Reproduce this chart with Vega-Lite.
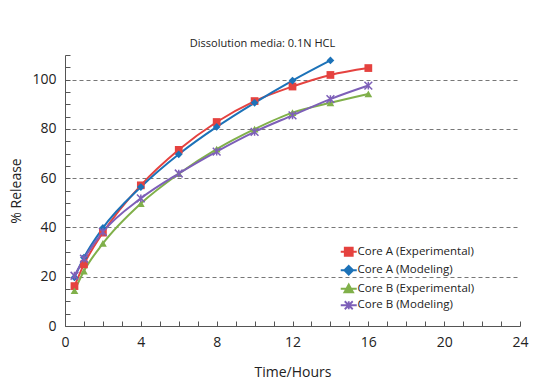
{
  "$schema": "https://vega.github.io/schema/vega-lite/v6.json",
  "width": 455,
  "height": 271,
  "autosize": {"type": "none"},
  "padding": {"left": 65, "top": 55, "right": 30, "bottom": 57},
  "background": "white",
  "title": {"text": "Dissolution media: 0.1N HCL", "fontSize": 11, "fontWeight": "normal", "font": "Open Sans", "color": "#222", "anchor": "middle", "dx": -30, "offset": 6},
  "config": {
    "view": {"stroke": null},
    "font": "Open Sans"
  },
  "data": {"values": [
    {"series": "Core A (Experimental)", "time": 0.5, "release": 16.2},
    {"series": "Core A (Experimental)", "time": 1, "release": 25.0},
    {"series": "Core A (Experimental)", "time": 2, "release": 37.9},
    {"series": "Core A (Experimental)", "time": 4, "release": 57.1},
    {"series": "Core A (Experimental)", "time": 6, "release": 71.5},
    {"series": "Core A (Experimental)", "time": 8, "release": 82.8},
    {"series": "Core A (Experimental)", "time": 10, "release": 91.3},
    {"series": "Core A (Experimental)", "time": 12, "release": 97.2},
    {"series": "Core A (Experimental)", "time": 14, "release": 101.9},
    {"series": "Core A (Experimental)", "time": 16, "release": 104.7},
    {"series": "Core A (Modeling)", "time": 0.5, "release": 19.7},
    {"series": "Core A (Modeling)", "time": 1, "release": 27.8},
    {"series": "Core A (Modeling)", "time": 2, "release": 39.8},
    {"series": "Core A (Modeling)", "time": 4, "release": 56.4},
    {"series": "Core A (Modeling)", "time": 6, "release": 69.7},
    {"series": "Core A (Modeling)", "time": 8, "release": 80.8},
    {"series": "Core A (Modeling)", "time": 10, "release": 90.6},
    {"series": "Core A (Modeling)", "time": 12, "release": 99.6},
    {"series": "Core A (Modeling)", "time": 14, "release": 107.8},
    {"series": "Core B (Experimental)", "time": 0.5, "release": 14.3},
    {"series": "Core B (Experimental)", "time": 1, "release": 22.3},
    {"series": "Core B (Experimental)", "time": 2, "release": 33.5},
    {"series": "Core B (Experimental)", "time": 4, "release": 49.7},
    {"series": "Core B (Experimental)", "time": 6, "release": 61.8},
    {"series": "Core B (Experimental)", "time": 8, "release": 71.8},
    {"series": "Core B (Experimental)", "time": 10, "release": 79.9},
    {"series": "Core B (Experimental)", "time": 12, "release": 86.6},
    {"series": "Core B (Experimental)", "time": 14, "release": 90.6},
    {"series": "Core B (Experimental)", "time": 16, "release": 94.2},
    {"series": "Core B (Modeling)", "time": 0.5, "release": 20.4},
    {"series": "Core B (Modeling)", "time": 1, "release": 27.3},
    {"series": "Core B (Modeling)", "time": 2, "release": 38.2},
    {"series": "Core B (Modeling)", "time": 4, "release": 51.8},
    {"series": "Core B (Modeling)", "time": 6, "release": 61.9},
    {"series": "Core B (Modeling)", "time": 8, "release": 70.8},
    {"series": "Core B (Modeling)", "time": 10, "release": 78.8},
    {"series": "Core B (Modeling)", "time": 12, "release": 85.5},
    {"series": "Core B (Modeling)", "time": 14, "release": 92.1},
    {"series": "Core B (Modeling)", "time": 16, "release": 97.6}
  ]},
  "encoding": {
    "x": {"field": "time", "type": "quantitative",
      "scale": {"domain": [0, 24], "nice": false},
      "axis": {"title": "Time/Hours", "titleFontSize": 14, "titleFontWeight": "normal", "titleColor": "#222", "titlePadding": 16,
        "values": [0,1,2,3,4,5,6,7,8,9,10,11,12,13,14,15,16,17,18,19,20,21,22,23,24],
        "labelExpr": "datum.value % 4 == 0 ? datum.label : ''",
        "labelFontSize": 14, "labelColor": "#222", "labelPadding": 14, "labelFlush": false,
        "tickSize": -5, "tickColor": "#555", "domainColor": "#555", "grid": false}},
    "y": {"field": "release", "type": "quantitative",
      "scale": {"domain": [0, 110], "nice": false},
      "axis": {"title": "% Release", "titleFontSize": 14, "titleFontWeight": "normal", "titleColor": "#222", "titlePadding": 8,
        "values": [0,5,10,15,20,25,30,35,40,45,50,55,60,65,70,75,80,85,90,95,100,105,110],
        "labelExpr": "datum.value % 20 == 0 ? datum.label : ''",
        "labelFontSize": 14, "labelColor": "#222", "labelPadding": 14,
        "tickSize": -5, "tickColor": "#555", "domainColor": "#555",
        "grid": true, "gridColor": "#777", "gridDash": [4, 3], "gridWidth": 1,
        "gridOpacity": {"condition": {"test": "datum.value % 20 == 0 && datum.value > 0 && datum.value <= 100", "value": 1}, "value": 0}}},
    "color": {"field": "series", "type": "nominal",
      "scale": {"domain": ["Core A (Experimental)", "Core A (Modeling)", "Core B (Experimental)", "Core B (Modeling)"],
        "range": ["#e5423f", "#1c72b8", "#80b04a", "#7d5fb8"]},
      "legend": {"title": null, "orient": "none", "legendX": 278, "legendY": 191,
        "labelFontSize": 11.5, "labelColor": "#222", "rowPadding": 1.5, "labelOffset": 3, "symbolStrokeWidth": 1.8, "symbolSize": 64,
        "encode": {"symbols": {"update": {
          "stroke": {"scale": "color", "field": "value"},
          "fill": {"signal": "datum.value == 'Core B (Modeling)' ? 'transparent' : scale('color', datum.value)"},
          "shape": {"signal": "datum.value == 'Core A (Experimental)' ? 'M-2,0L2,0M-1,-1L1,-1L1,1L-1,1Z' : datum.value == 'Core A (Modeling)' ? 'M-2,0L2,0M0,-1.1L1.1,0L0,1.1L-1.1,0Z' : datum.value == 'Core B (Experimental)' ? 'M-2,0L2,0M0,-1.1L1.1,0.9L-1.1,0.9Z' : 'M-2,0L2,0M-1,-1L1,1M-1,1L1,-1M0,-1L0,1'"}
        }}}}}
  },
  "layer": [
    {"mark": {"type": "line", "interpolate": "monotone", "strokeWidth": 2}},
    {"transform": [{"filter": "datum.series == 'Core A (Experimental)'"}],
      "mark": {"type": "point", "filled": true, "opacity": 1, "size": 60, "shape": "square"}},
    {"transform": [{"filter": "datum.series == 'Core A (Modeling)'"}],
      "mark": {"type": "point", "filled": true, "opacity": 1, "size": 60, "shape": "diamond"}},
    {"transform": [{"filter": "datum.series == 'Core B (Experimental)'"}],
      "mark": {"type": "point", "filled": true, "opacity": 1, "size": 60, "shape": "triangle-up"}},
    {"transform": [{"filter": "datum.series == 'Core B (Modeling)'"}],
      "mark": {"type": "point", "filled": false, "opacity": 1, "size": 60, "strokeWidth": 1.5, "shape": "M-1,-1L1,1M-1,1L1,-1M0,-1L0,1"}}
  ]
}
